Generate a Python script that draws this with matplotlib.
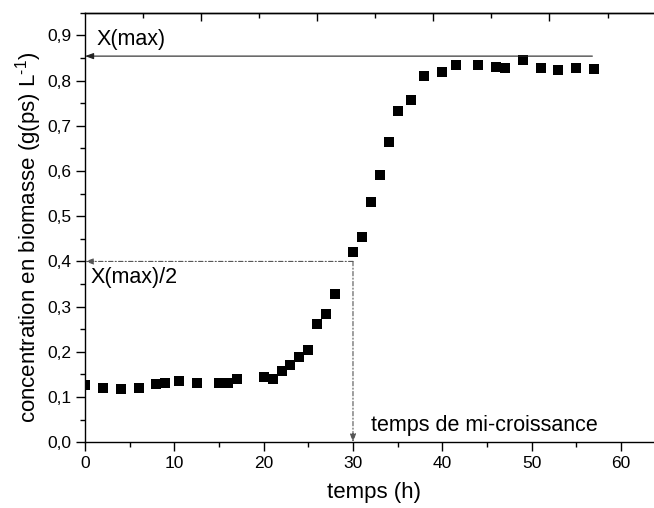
import matplotlib
matplotlib.use("Agg")
import matplotlib.pyplot as plt
from matplotlib.ticker import MultipleLocator, FuncFormatter, FixedLocator

plt.rcParams['font.family'] = ['Liberation Sans', 'DejaVu Sans']
plt.rcParams['mathtext.fontset'] = 'custom'
plt.rcParams['mathtext.rm'] = 'Liberation Sans'
plt.rcParams['mathtext.it'] = 'Liberation Sans:italic'
plt.rcParams['mathtext.bf'] = 'Liberation Sans:bold'

# Data
temps = [0, 2, 4, 6, 8, 9, 10.5, 12.5, 15, 16, 17, 20, 21, 22, 23, 24, 25, 26, 27, 28,
         30, 31, 32, 33, 34, 35, 36.5, 38, 40, 41.5, 44, 46, 47, 49, 51, 53, 55, 57]
biomasse = [0.127, 0.120, 0.117, 0.121, 0.128, 0.132, 0.135, 0.132, 0.132, 0.132, 0.139,
            0.144, 0.140, 0.158, 0.170, 0.189, 0.205, 0.261, 0.283, 0.329,
            0.420, 0.455, 0.531, 0.592, 0.663, 0.733, 0.756, 0.811, 0.819, 0.835,
            0.834, 0.830, 0.828, 0.845, 0.828, 0.823, 0.828, 0.826]
x_max = 0.854
x_half = 0.40
t_half = 30
t_line_end = 56.8

fig = plt.figure(figsize=(6.54, 5.08), dpi=100)
ax = fig.add_axes([0.130, 0.1293, 0.870, 0.8457])

ax.plot(temps, biomasse, linestyle='none', marker='s', markersize=7,
        color='black', markeredgewidth=0)

ax.set_xlim(0, 63.7)
ax.set_ylim(0, 0.95)

ax.spines['right'].set_visible(False)
for s in ['left', 'bottom', 'top']:
    ax.spines[s].set_linewidth(1.0)

ax.xaxis.set_major_locator(MultipleLocator(10))
ax.xaxis.set_minor_locator(MultipleLocator(5))
ax.yaxis.set_major_locator(MultipleLocator(0.1))
ax.yaxis.set_minor_locator(MultipleLocator(0.05))
ax.yaxis.set_major_formatter(FuncFormatter(lambda v, p: f"{v:.1f}".replace('.', ',')))
ax.xaxis.set_major_formatter(FuncFormatter(lambda v, p: f"{int(round(v))}"))

ax.tick_params(axis='both', which='major', direction='out', length=6.5, width=1.0,
               labelsize=12.5, pad=3)
ax.tick_params(axis='both', which='minor', direction='out', length=3.5, width=1.0)

# top axis ticks (inward, no labels)
top = ax.secondary_xaxis('top')
top.xaxis.set_major_locator(FixedLocator([13, 26, 39, 52]))
top.xaxis.set_minor_locator(FixedLocator([6.5, 19.5, 32.5, 45.5, 58.5]))
top.tick_params(which='major', direction='in', length=6, width=1.0, labelsize=0)
top.tick_params(which='minor', direction='in', length=3.5, width=1.0)
top.set_xticklabels([])
top.spines['top'].set_linewidth(1.0)

ax.set_xlabel('temps (h)', fontsize=16, labelpad=8)
ax.set_ylabel(r'concentration en biomasse (g(ps) L$^{\text{-1}}$)', fontsize=16, labelpad=3)
ax.yaxis.label.set_y(0.478)
ax.xaxis.label.set_x(0.508)

# annotations
ax.annotate('', xy=(0, x_max), xytext=(t_line_end, x_max),
            arrowprops=dict(arrowstyle='-|>,head_length=0.5,head_width=0.18',
                            color='#222222', lw=0.8, shrinkA=0, shrinkB=0))
ax.annotate('', xy=(0, x_half), xytext=(t_half, x_half),
            arrowprops=dict(arrowstyle='-|>,head_length=0.5,head_width=0.18',
                            color='#555555', lw=0.8, linestyle=(0, (4, 2, 1, 2)),
                            shrinkA=0, shrinkB=0))
ax.annotate('', xy=(t_half, 0), xytext=(t_half, x_half),
            arrowprops=dict(arrowstyle='-|>,head_length=0.5,head_width=0.18',
                            color='#555555', lw=0.8, linestyle=(0, (4, 2, 1, 2)),
                            shrinkA=0, shrinkB=0))

ax.text(1.3, 0.868, 'X(max)', fontsize=15.5, ha='left', va='bottom')
ax.text(0.6, 0.342, 'X(max)/2', fontsize=15.5, ha='left', va='bottom')
ax.text(32, 0.015, 'temps de mi-croissance', fontsize=15.5, ha='left', va='bottom')

fig.savefig('out.png', dpi=100)
